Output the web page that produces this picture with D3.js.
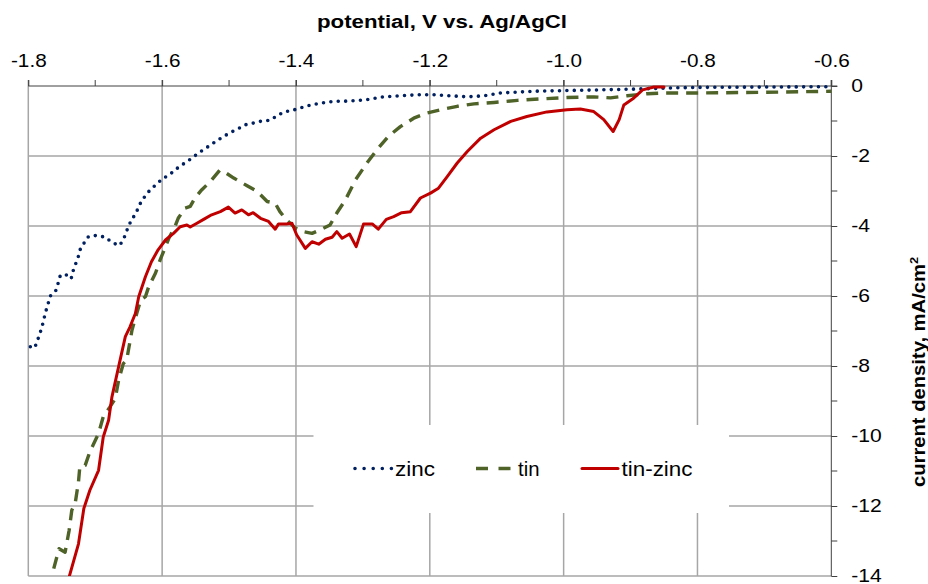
<!DOCTYPE html>
<html><head><meta charset="utf-8">
<script src="https://cdn.jsdelivr.net/npm/d3@7"></script>
<style>body{margin:0;background:#fff}svg{display:block}text{font-family:"Liberation Sans",Arial,sans-serif}</style>
</head><body><svg id="c" width="928" height="584"></svg>
<script>
const xTicks = [-1.8,-1.6,-1.4,-1.2,-1.0,-0.8,-0.6];
const yTicks = [0,-2,-4,-6,-8,-10,-12,-14];
const seriesNames = ["zinc","tin","tin-zinc"];
const zincV = [-1.797,-1.791,-1.788,-1.780,-1.774,-1.767,-1.759,-1.755,-1.752,-1.743,-1.736,-1.733,-1.725,-1.722,-1.710,-1.698,-1.685,-1.675,-1.664,-1.658,-1.654,-1.649,-1.643,-1.637,-1.632,-1.625,-1.618,-1.608,-1.599,-1.589,-1.581,-1.570,-1.559,-1.550,-1.539,-1.528,-1.518,-1.508,-1.497,-1.487,-1.476,-1.464,-1.453,-1.439,-1.428,-1.418,-1.406,-1.394,-1.381,-1.369,-1.356,-1.344,-1.319,-1.294,-1.269,-1.244,-1.219,-1.194,-1.169,-1.144,-1.119,-1.095,-1.045,-0.995,-0.945,-0.895,-0.850,-0.800,-0.700,-0.600];
const zincI = [-7.45,-7.49,-7.37,-6.92,-6.45,-6.00,-5.85,-5.61,-5.40,-5.40,-5.51,-5.28,-4.86,-4.64,-4.30,-4.27,-4.32,-4.47,-4.56,-4.40,-4.19,-3.95,-3.75,-3.54,-3.33,-3.13,-2.97,-2.80,-2.64,-2.54,-2.40,-2.25,-2.11,-1.98,-1.83,-1.69,-1.56,-1.44,-1.32,-1.23,-1.11,-1.06,-1.01,-0.98,-0.85,-0.74,-0.70,-0.63,-0.56,-0.51,-0.47,-0.44,-0.43,-0.39,-0.31,-0.28,-0.25,-0.25,-0.28,-0.31,-0.28,-0.20,-0.15,-0.13,-0.11,-0.09,-0.06,-0.04,-0.03,-0.02];
const tinV = [-1.762,-1.754,-1.745,-1.739,-1.735,-1.730,-1.725,-1.723,-1.715,-1.708,-1.695,-1.688,-1.678,-1.670,-1.665,-1.658,-1.653,-1.645,-1.638,-1.632,-1.625,-1.620,-1.610,-1.603,-1.595,-1.590,-1.581,-1.576,-1.566,-1.558,-1.551,-1.541,-1.528,-1.514,-1.508,-1.493,-1.473,-1.458,-1.443,-1.431,-1.424,-1.414,-1.401,-1.389,-1.376,-1.364,-1.349,-1.339,-1.326,-1.311,-1.294,-1.279,-1.262,-1.244,-1.224,-1.204,-1.184,-1.159,-1.134,-1.104,-1.069,-1.035,-0.995,-0.955,-0.930,-0.905,-0.875,-0.850,-0.800,-0.700,-0.600];
const tinI = [-13.79,-13.22,-13.32,-12.70,-12.12,-11.93,-11.31,-10.88,-10.84,-10.45,-9.93,-9.45,-9.17,-8.93,-8.40,-7.93,-7.83,-6.97,-6.50,-6.11,-6.02,-5.73,-5.35,-4.97,-4.59,-4.35,-4.02,-3.78,-3.49,-3.44,-3.20,-2.97,-2.73,-2.41,-2.44,-2.63,-2.85,-3.01,-3.30,-3.35,-3.59,-3.83,-4.06,-4.16,-4.21,-4.11,-3.97,-3.63,-3.25,-2.68,-2.20,-1.82,-1.44,-1.16,-0.92,-0.77,-0.68,-0.58,-0.51,-0.47,-0.41,-0.37,-0.33,-0.31,-0.34,-0.28,-0.22,-0.20,-0.20,-0.18,-0.15];
const tinZincV = [-1.739,-1.725,-1.717,-1.708,-1.695,-1.688,-1.680,-1.675,-1.665,-1.655,-1.648,-1.640,-1.635,-1.625,-1.616,-1.606,-1.595,-1.583,-1.573,-1.563,-1.558,-1.548,-1.538,-1.526,-1.513,-1.501,-1.491,-1.481,-1.471,-1.464,-1.453,-1.441,-1.431,-1.426,-1.414,-1.406,-1.399,-1.386,-1.376,-1.366,-1.356,-1.346,-1.339,-1.331,-1.320,-1.310,-1.299,-1.286,-1.277,-1.265,-1.254,-1.242,-1.229,-1.214,-1.199,-1.187,-1.174,-1.159,-1.144,-1.124,-1.104,-1.079,-1.055,-1.025,-0.995,-0.975,-0.955,-0.940,-0.926,-0.917,-0.910,-0.895,-0.882,-0.865,-0.850];
const tinZincI = [-14.03,-13.08,-12.07,-11.55,-10.98,-10.03,-9.55,-8.88,-8.02,-7.16,-6.88,-6.50,-6.02,-5.45,-5.02,-4.68,-4.40,-4.21,-4.02,-3.97,-4.03,-3.92,-3.81,-3.68,-3.59,-3.46,-3.63,-3.54,-3.68,-3.62,-3.78,-3.87,-4.09,-3.94,-3.94,-3.92,-4.25,-4.64,-4.45,-4.52,-4.38,-4.32,-4.16,-4.35,-4.23,-4.59,-3.94,-3.94,-4.09,-3.81,-3.73,-3.62,-3.59,-3.20,-3.06,-2.92,-2.59,-2.20,-1.87,-1.49,-1.25,-1.01,-0.87,-0.74,-0.68,-0.66,-0.73,-0.96,-1.30,-0.96,-0.54,-0.34,-0.11,-0.03,-0.03];

const svg = d3.select("#c");
const L = 28.3, R = 831.3, T = 86, B = 576;
const x = d3.scaleLinear().domain([-1.8,-0.6]).range([L,R]);
const y = d3.scaleLinear().domain([0,-14]).range([T,B]);
const gridC = "#a6a6a6", axC = "#404040";

function stretch(sel, f){
  sel.each(function(){
    const len = this.getComputedTextLength();
    d3.select(this).attr("textLength", len*f).attr("lengthAdjust","spacingAndGlyphs");
  });
}

// grid
const g = svg.append("g");
g.selectAll(".vg").data(xTicks.slice(0,-1)).join("line")
  .attr("x1",d=>x(d)).attr("x2",d=>x(d)).attr("y1",T).attr("y2",B)
  .attr("stroke",gridC).attr("stroke-width",1.5);
g.selectAll(".hg").data(yTicks.slice(1)).join("line")
  .attr("x1",L).attr("x2",R).attr("y1",d=>y(d)).attr("y2",d=>y(d))
  .attr("stroke",gridC).attr("stroke-width",1.5);

// legend box (covers grid)
svg.append("rect").attr("x",313.5).attr("y",425).attr("width",415.5).attr("height",88).attr("fill","#fff");

// axes
const xMinor = d3.range(-1.8,-0.55,0.1);
const xAxis = d3.axisTop(x).tickValues(xTicks).tickSize(6).tickPadding(13);
const gx = svg.append("g").attr("transform",`translate(0,${T})`).call(xAxis);
gx.select(".domain").attr("stroke",axC).attr("d",`M${L},0H${R+6}`);
gx.selectAll(".tick line").attr("stroke",axC);
gx.selectAll(".tick text").attr("font-size",18.5).attr("fill","#000").text(d=>d3.format(".1f")(d).replace("\u2212","-"));
stretch(gx.selectAll(".tick text"),1.12);
gx.selectAll(".mt").data(xMinor).join("line").attr("x1",d=>x(d)).attr("x2",d=>x(d)).attr("y1",0).attr("y2",-6).attr("stroke",axC);

const yMinor = d3.range(-1,-14,-2);
const yAxis = d3.axisRight(y).tickValues(yTicks).tickSize(6).tickPadding(14);
const gy = svg.append("g").attr("transform",`translate(${R},0)`).call(yAxis);
gy.select(".domain").attr("stroke",axC).attr("d",`M0,${T-6}V${B}`);
gy.selectAll(".tick line").attr("stroke",axC);
gy.selectAll(".tick text").attr("font-size",18.5).attr("fill","#000").attr("text-anchor","start").text(d=>String(d).replace("\u2212","-"));
stretch(gy.selectAll(".tick text"),1.14);
gy.selectAll(".mt").data(yMinor).join("line").attr("x1",0).attr("x2",6).attr("y1",d=>y(d)).attr("y2",d=>y(d)).attr("stroke",axC);

// titles
svg.append("text").attr("x",442).attr("y",27.5).attr("text-anchor","middle")
  .attr("font-size",18).attr("font-weight","bold").attr("textLength",250).attr("lengthAdjust","spacingAndGlyphs")
  .text("potential, V vs. Ag/AgCl");
const yt = svg.append("text").attr("transform","translate(925,372) rotate(-90)").attr("text-anchor","middle")
  .attr("font-size",17.5).attr("font-weight","bold").attr("textLength",230).attr("lengthAdjust","spacingAndGlyphs");
yt.append("tspan").text("current density, mA/cm");
yt.append("tspan").attr("font-size",11).attr("dy",-7).text("2");

// series
svg.append("defs").append("clipPath").attr("id","pc").append("rect").attr("x",L).attr("y",T-4).attr("width",R-L+4).attr("height",B-T+4);
const line = d3.line().x(d=>x(d[0])).y(d=>y(d[1])).curve(d3.curveLinear);
const styles = {
  "zinc": {c:"#002060", w:3.6, dash:"0,7.4", cap:"round"},
  "tin": {c:"#4f6228", w:3.4, dash:"12,8", cap:"butt"},
  "tin-zinc": {c:"#c00000", w:3, dash:null, cap:"round"}
};
const data = {
  "zinc": d3.zip(zincV,zincI),
  "tin": d3.zip(tinV,tinI),
  "tin-zinc": d3.zip(tinZincV,tinZincI)
};
const sg = svg.append("g").attr("clip-path","url(#pc)");
seriesNames.forEach(n=>{
  const s = styles[n];
  sg.append("path").attr("d",line(data[n])).attr("fill","none").attr("stroke",s.c)
    .attr("stroke-width",s.w).attr("stroke-dasharray",s.dash).attr("stroke-linecap",s.cap).attr("stroke-linejoin","round");
});

// legend
const lg = svg.append("g");
const items = [{n:"zinc",x0:355,x1:392,tx:395,w:40},{n:"tin",x0:476,x1:511,tx:518,w:21.5},{n:"tin-zinc",x0:582,x1:618,tx:621.5,w:71}];
items.forEach(it=>{
  const s = styles[it.n];
  lg.append("line").attr("x1",it.x0).attr("x2",it.x1).attr("y1",468.5).attr("y2",468.5)
    .attr("stroke",s.c).attr("stroke-width",s.w).attr("stroke-linecap",s.cap)
    .attr("stroke-dasharray", it.n==="zinc" ? "0,9.1" : (it.n==="tin" ? "12,10.5" : null));
  lg.append("text").attr("x",it.tx).attr("y",475.5).attr("font-size",20)
    .attr("textLength",it.w).attr("lengthAdjust","spacingAndGlyphs").text(it.n);
});
</script></body></html>
